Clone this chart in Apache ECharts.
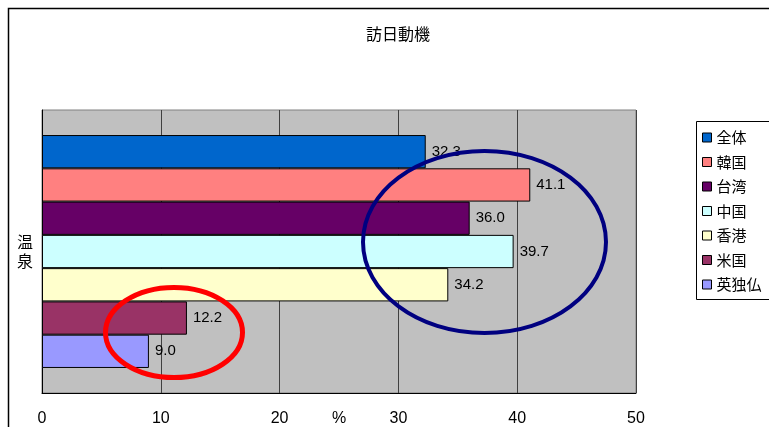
<!DOCTYPE html>
<html>
<head>
<meta charset="utf-8">
<script src="https://cdn.jsdelivr.net/npm/echarts@6/dist/echarts.min.js"></script>
<style>html,body{margin:0;padding:0;background:#fff;}#c{width:769px;height:427px;}</style>
</head>
<body>
<div id="c"></div>
<script>
var categories = ['温泉'];
var seriesNames = ['全体', '韓国', '台湾', '中国', '香港', '米国', '英独仏'];
var seriesValues = [32.3, 41.1, 36.0, 39.7, 34.2, 12.2, 9.0];
var seriesColors = ['#0066CC', '#FF8080', '#660066', '#CCFFFF', '#FFFFCC', '#993366', '#9999FF'];
var xTicks = [0, 10, 20, 30, 40, 50];

var FONT = '"Noto Sans CJK JP", sans-serif';
var NUMFONT = '"Liberation Sans", Arial, sans-serif';
var chart = echarts.init(document.getElementById('c'), null, {renderer: 'canvas'});

var series = seriesNames.map(function (name, i) {
  return {
    name: name,
    type: 'bar',
    data: [seriesValues[i]],
    barGap: '0%',
    barCategoryGap: '17.7%',
    itemStyle: {color: seriesColors[i], borderColor: '#000', borderWidth: 1},
    label: {
      show: true, position: 'right', distance: 6,
      fontFamily: NUMFONT, fontSize: 15, color: '#000',
      formatter: function (p) { return p.value.toFixed(1); }
    },
    z: 2
  };
});

chart.setOption({
  animation: false,
  backgroundColor: '#fff',
  title: {
    text: '訪日動機', left: 361, top: 21,
    textStyle: {fontFamily: FONT, fontSize: 16, fontWeight: 'normal', color: '#000'}
  },
  legend: {
    orient: 'vertical', left: 702, top: 129, padding: 0,
    itemWidth: 9, itemHeight: 9, itemGap: 7.5,
    icon: 'rect',
    itemStyle: {borderColor: '#000', borderWidth: 1},
    textStyle: {fontFamily: FONT, fontSize: 15, color: '#000', lineHeight: 17},
    data: seriesNames
  },
  grid: {
    left: 42, right: 133, top: 110, bottom: 34,
    outerBoundsMode: 'none', containLabel: false,
    show: true, backgroundColor: '#C0C0C0', borderColor: '#808080', borderWidth: 1
  },
  xAxis: {
    type: 'value', min: xTicks[0], max: xTicks[xTicks.length - 1], interval: 10,
    name: '%', nameLocation: 'middle', nameGap: 18, nameMoveOverlap: false,
    nameTextStyle: {fontFamily: NUMFONT, fontSize: 16, color: '#000', verticalAlign: 'top'},
    axisLine: {show: true, lineStyle: {color: '#000', width: 1}},
    axisTick: {show: false},
    axisLabel: {fontFamily: NUMFONT, fontSize: 16, color: '#000', margin: 18},
    splitLine: {show: true, lineStyle: {color: '#404040', width: 1}}
  },
  yAxis: {
    type: 'category', data: categories,
    axisLine: {show: true, lineStyle: {color: '#000', width: 1}},
    axisTick: {show: false},
    splitLine: {show: false},
    axisLabel: {
      fontFamily: FONT, fontSize: 16, color: '#000', margin: 9, lineHeight: 19,
      formatter: function (v) { return v.split('').join('\n'); }
    }
  },
  graphic: [
    {type: 'polyline', shape: {points: [[8.5, 427], [8.5, 8.5], [769, 8.5]]},
     style: {stroke: '#000', lineWidth: 1.5, fill: null}, z: 10, silent: true},
    {type: 'rect', shape: {x: 696.5, y: 121.5, width: 120, height: 178},
     style: {stroke: '#000', lineWidth: 1, fill: null}, z: 10, silent: true},
    {type: 'ellipse', shape: {cx: 484.5, cy: 242, rx: 121.5, ry: 91},
     style: {stroke: '#000080', lineWidth: 4, fill: null}, z: 20, silent: true},
    {type: 'ellipse', shape: {cx: 174, cy: 332.5, rx: 68.5, ry: 45},
     style: {stroke: '#FF0000', lineWidth: 5, fill: null}, z: 20, silent: true}
  ],
  series: series
});
</script>
</body>
</html>
